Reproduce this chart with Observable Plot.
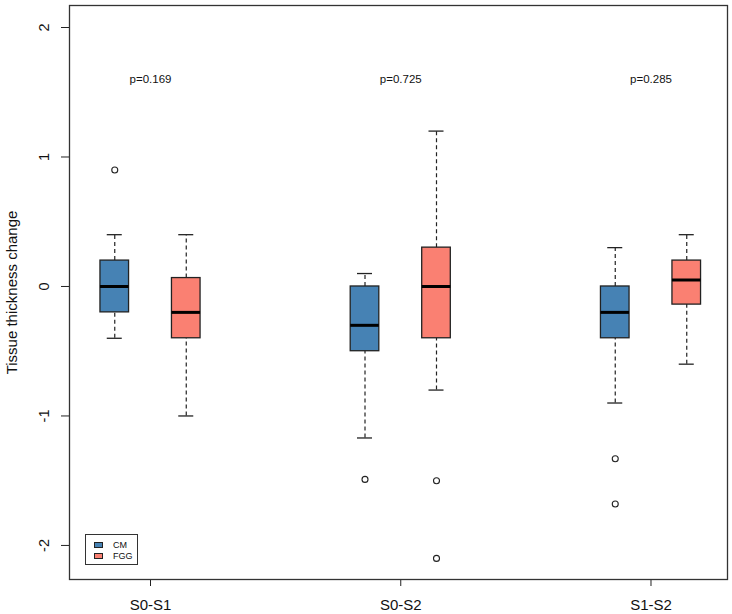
<!DOCTYPE html>
<html>
<head>
<meta charset="utf-8">
<script src="https://cdn.jsdelivr.net/npm/d3@7"></script>
<script src="https://cdn.jsdelivr.net/npm/@observablehq/plot@0.6"></script>
<style>
  html, body { margin: 0; padding: 0; background: #fff; }
  #wrap { position: relative; width: 732px; height: 614px; font-family: "Liberation Sans", Arial, sans-serif; }
  #legend { position: absolute; left: 85px; top: 534px; width: 53px; height: 31px; border: 1px solid #333; background: #fff; box-sizing: border-box; font-size: 9px; line-height: 10px; color: #111; }
  .row { position: absolute; left: 8px; display: flex; align-items: center; }
  .sw { width: 7px; height: 4px; border: 1px solid #222; margin-right: 10px; }
</style>
</head>
<body>
<div id="wrap"></div>
<script>
// ---- data ----
const groups = ["S0-S1", "S0-S2", "S1-S2"];
const treatments = ["CM", "FGG"];
const colors = ["#4682B4", "#FA8072"];
const pLabels = ["p=0.169", "p=0.725", "p=0.285"];

const cmWhiskerHigh = [0.4, 0.1, 0.3];
const cmQ3 = [0.2, 0.0, 0.0];
const cmMedian = [0.0, -0.3, -0.2];
const cmQ1 = [-0.2, -0.5, -0.4];
const cmWhiskerLow = [-0.4, -1.17, -0.9];
const cmOutliers = [[0.9], [-1.49], [-1.33, -1.68]];

const fggWhiskerHigh = [0.4, 1.2, 0.4];
const fggQ3 = [0.065, 0.3, 0.2];
const fggMedian = [-0.2, 0.0, 0.05];
const fggQ1 = [-0.4, -0.4, -0.14];
const fggWhiskerLow = [-1.0, -0.8, -0.6];
const fggOutliers = [[], [-1.5, -2.1], []];

const yTicks = [-2, -1, 0, 1, 2];
const yLabel = "Tissue thickness change";

// ---- build tables ----
const stats = [
  [cmWhiskerHigh, cmQ3, cmMedian, cmQ1, cmWhiskerLow, cmOutliers],
  [fggWhiskerHigh, fggQ3, fggMedian, fggQ1, fggWhiskerLow, fggOutliers]
];
const pos = (gi, ti) => 1 + gi * 3.5 + ti;
const boxes = [];
const outliers = [];
treatments.forEach((t, ti) => {
  const [hi, q3, med, q1, lo, out] = stats[ti];
  groups.forEach((g, gi) => {
    const p = pos(gi, ti);
    boxes.push({t, g, p, hi: hi[gi], q3: q3[gi], med: med[gi], q1: q1[gi], lo: lo[gi]});
    out[gi].forEach(v => outliers.push({t, g, p, v}));
  });
});
const centers = groups.map((g, gi) => ({g, c: pos(gi, 0.5), label: pLabels[gi]}));
const hw = 0.2, cw = 0.105;

const chart = Plot.plot({
  width: 732,
  height: 614,
  marginLeft: 69,
  marginRight: 5,
  marginTop: 5,
  marginBottom: 35,
  style: {fontFamily: "'Liberation Sans', Arial, sans-serif", background: "#fff", color: "#111"},
  x: {domain: [0.367, 9.57], axis: null},
  y: {domain: [-2.263, 2.17], axis: null},
  color: {domain: treatments, range: colors},
  marks: [
    Plot.axisX({ticks: centers.map(d => d.c), tickFormat: (d, i) => groups[i], tickSize: 7, tickPadding: 13, fontSize: 15, label: null, stroke: "#222"}),
    Plot.axisY({ticks: yTicks, tickSize: 8, tickFormat: () => "", label: null, stroke: "#222"}),
    Plot.text(yTicks, {y: d => d, text: d => String(d), frameAnchor: "left", textAnchor: "middle", dx: -25, rotate: -90, fontSize: 14.5, fill: "#111"}),
    Plot.text([yLabel], {frameAnchor: "left", textAnchor: "middle", dx: -57, rotate: -90, fontSize: 15, fill: "#111"}),
    Plot.frame({stroke: "#333", strokeWidth: 1.3}),
    Plot.ruleX(boxes, {x: "p", y1: "q3", y2: "hi", stroke: "#222", strokeDasharray: "4,3", strokeWidth: 1.2}),
    Plot.ruleX(boxes, {x: "p", y1: "lo", y2: "q1", stroke: "#222", strokeDasharray: "4,3", strokeWidth: 1.2}),
    Plot.ruleY(boxes, {y: "hi", x1: d => d.p - cw, x2: d => d.p + cw, stroke: "#222", strokeWidth: 1.3}),
    Plot.ruleY(boxes, {y: "lo", x1: d => d.p - cw, x2: d => d.p + cw, stroke: "#222", strokeWidth: 1.3}),
    Plot.rect(boxes, {x1: d => d.p - hw, x2: d => d.p + hw, y1: "q1", y2: "q3", fill: "t", stroke: "#222", strokeWidth: 1.3}),
    Plot.ruleY(boxes, {y: "med", x1: d => d.p - hw, x2: d => d.p + hw, stroke: "#000", strokeWidth: 3}),
    Plot.dot(outliers, {x: "p", y: "v", r: 3, stroke: "#222", fill: "#fff", strokeWidth: 1.1}),
    Plot.text(centers, {x: "c", y: 1.6, text: "label", fontSize: 11.5, fill: "#111"})
  ]
});

const wrap = document.getElementById("wrap");
wrap.appendChild(chart);

// legend inside plot area
const legend = document.createElement("div");
legend.id = "legend";
treatments.forEach((t, i) => {
  const row = document.createElement("div");
  row.className = "row";
  row.style.top = (5 + i * 11) + "px";
  const sw = document.createElement("span");
  sw.className = "sw";
  sw.style.background = colors[i];
  const tx = document.createElement("span");
  tx.textContent = t;
  row.appendChild(sw);
  row.appendChild(tx);
  legend.appendChild(row);
});
wrap.appendChild(legend);
</script>
</body>
</html>
